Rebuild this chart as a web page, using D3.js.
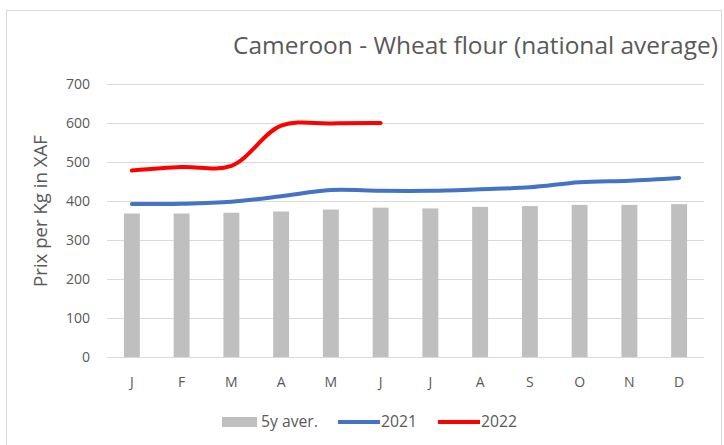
<!DOCTYPE html>
<html>
<head>
<meta charset="utf-8">
<script src="https://cdn.jsdelivr.net/npm/d3@7"></script>
<style>
  body { margin: 0; background: #fff; }
  text { font-family: "Open Sans", "Noto Sans", sans-serif; fill: #595959; }
</style>
</head>
<body>
<div id="chart"></div>
<script>
// data
var months = ["J", "F", "M", "A", "M", "J", "J", "A", "S", "O", "N", "D"];
var avg5y = [368, 368, 370, 373, 378, 383, 381, 385, 387, 390, 390, 392];
var y2021 = [392, 393, 398, 412, 428, 426, 426, 430, 435, 448, 452, 459];
var y2022 = [478, 487, 490, 593, 599, 600];
var yTicks = [0, 100, 200, 300, 400, 500, 600, 700];

var svgWidth = 724;
var svgHeight = 445;

var margin = { top: 84, right: 20, bottom: 88, left: 107 };
var width = 704 - margin.left;
var height = 357 - margin.top;

var svg = d3.select("#chart")
  .append("svg")
  .attr("width", svgWidth)
  .attr("height", svgHeight);

// squeeze or grow a text's font size so it spans the given width
function fitText(sel, size, target) {
  sel.attr("font-size", size + "px");
  var w = sel.node().getComputedTextLength();
  sel.attr("font-size", (size * target / w) + "px");
  return sel;
}

// chart frame
svg.append("rect")
  .attr("x", 6.5)
  .attr("y", 10.5)
  .attr("width", 715)
  .attr("height", 450)
  .attr("fill", "none")
  .attr("stroke", "#d9d9d9");

var chartGroup = svg.append("g")
  .attr("transform", `translate(${margin.left}, ${margin.top})`);

var x = d3.scaleBand()
  .domain(d3.range(months.length))
  .range([0, width])
  .paddingInner(0.68)
  .paddingOuter(0.34);

var y = d3.scaleLinear()
  .domain([0, 700])
  .range([height, 0]);

// gridlines
chartGroup.append("g")
  .selectAll("line")
  .data(yTicks)
  .enter()
  .append("line")
  .attr("x1", 0)
  .attr("x2", width)
  .attr("y1", d => y(d) + 0.5)
  .attr("y2", d => y(d) + 0.5)
  .attr("stroke", "#d9d9d9")
  .attr("stroke-width", 1);

// y axis labels
var leftAxis = d3.axisLeft(y).tickValues(yTicks).tickSize(0).tickPadding(17);
var yAxis = chartGroup.append("g").call(leftAxis);
yAxis.select(".domain").remove();
yAxis.selectAll("text")
  .attr("font-size", "14px")
  .attr("fill", "#595959");

// x axis labels
var bottomAxis = d3.axisBottom(x).tickFormat(i => months[i]).tickSize(0).tickPadding(20);
var xAxis = chartGroup.append("g")
  .attr("transform", `translate(0, ${height})`)
  .call(bottomAxis);
xAxis.select(".domain").remove();
xAxis.selectAll("text")
  .attr("font-size", "14px")
  .attr("fill", "#595959");

// bars (5 year average)
chartGroup.selectAll(".bar")
  .data(avg5y)
  .enter()
  .append("rect")
  .attr("class", "bar")
  .attr("x", (d, i) => x(i))
  .attr("y", d => y(d))
  .attr("width", x.bandwidth())
  .attr("height", d => height - y(d))
  .attr("fill", "#bfbfbf");

var cx = i => x(i) + x.bandwidth() / 2;

var line = d3.line()
  .x((d, i) => cx(i))
  .y(d => y(d))
  .curve(d3.curveCatmullRom.alpha(0.5));

chartGroup.append("path")
  .datum(y2021)
  .attr("d", line)
  .attr("fill", "none")
  .attr("stroke", "#4472c4")
  .attr("stroke-width", 4)
  .attr("stroke-linecap", "round");

chartGroup.append("path")
  .datum(y2022)
  .attr("d", line)
  .attr("fill", "none")
  .attr("stroke", "#ff0000")
  .attr("stroke-width", 4)
  .attr("stroke-linecap", "round");

// title
var title = svg.append("text")
  .attr("x", 233)
  .attr("y", 54)
  .text("Cameroon - Wheat flour (national average)");
fitText(title, 22, 485);

// y axis title
var yTitle = svg.append("text")
  .attr("transform", "translate(47, 211) rotate(-90)")
  .attr("text-anchor", "middle")
  .text("Prix per Kg in XAF");
fitText(yTitle, 14, 152);

// legend
var legend = svg.append("g").attr("transform", "translate(0, 422)");
legend.append("rect")
  .attr("x", 222).attr("y", -5)
  .attr("width", 35).attr("height", 10)
  .attr("fill", "#bfbfbf");
fitText(legend.append("text")
  .attr("x", 261).attr("y", 5)
  .text("5y aver."), 13, 57);
legend.append("line")
  .attr("x1", 338).attr("x2", 380)
  .attr("stroke", "#4472c4").attr("stroke-width", 4);
fitText(legend.append("text")
  .attr("x", 381).attr("y", 5)
  .text("2021"), 13, 36);
legend.append("line")
  .attr("x1", 438).attr("x2", 480)
  .attr("stroke", "#ff0000").attr("stroke-width", 4);
fitText(legend.append("text")
  .attr("x", 481).attr("y", 5)
  .text("2022"), 13, 36);
</script>
</body>
</html>
